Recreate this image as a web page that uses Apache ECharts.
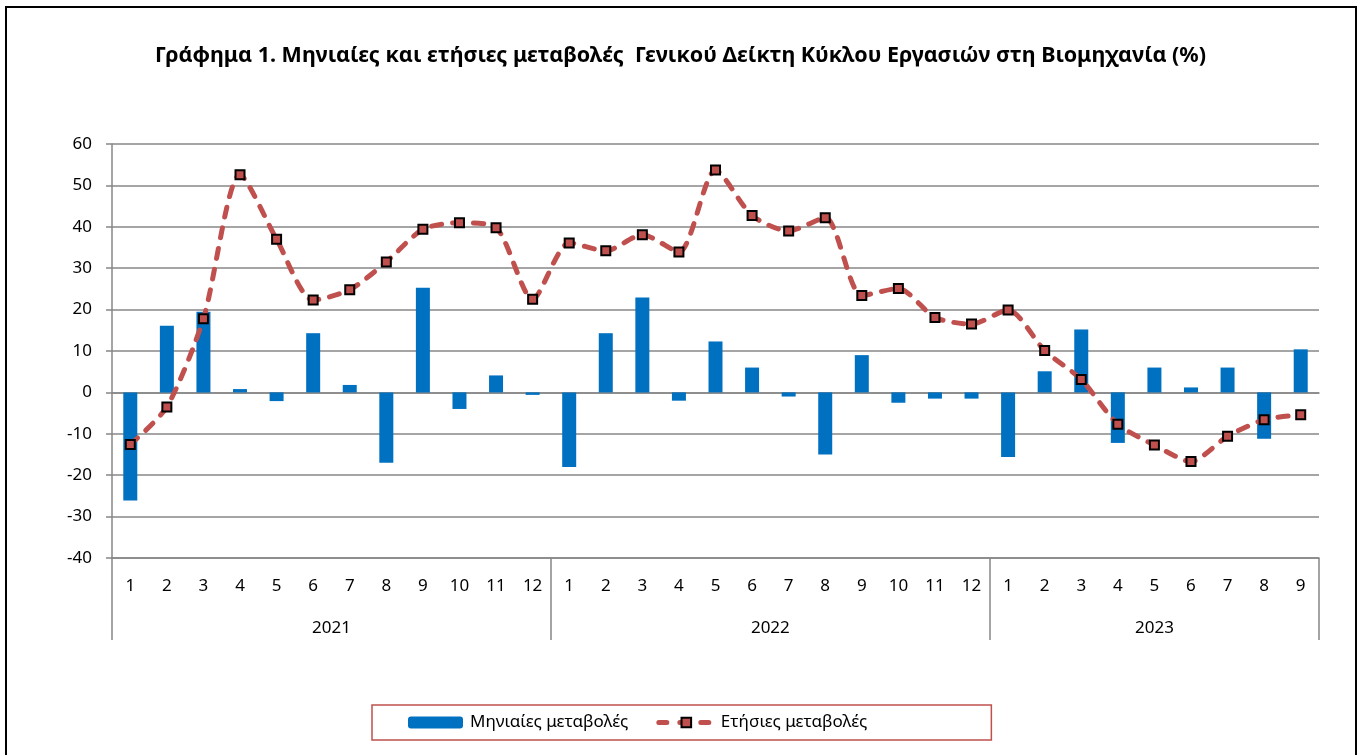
<!DOCTYPE html>
<html>
<head>
<meta charset="utf-8">
<script src="https://cdn.jsdelivr.net/npm/echarts@6/dist/echarts.min.js"></script>
<style>
  body { margin: 0; background: #fff; }
  #chart { width: 1361px; height: 755px; }
  #frame { position: absolute; left: 5px; top: 6px; width: 1348px; height: 800px;
           border: 2px solid #000; pointer-events: none; }
</style>
</head>
<body>
<div id="chart"></div>
<div id="frame"></div>
<script>
// months of each year shown on the axis
var months = ['1','2','3','4','5','6','7','8','9','10','11','12',
              '1','2','3','4','5','6','7','8','9','10','11','12',
              '1','2','3','4','5','6','7','8','9'];
var years = ['2021', '2022', '2023'];
var yearLengths = [12, 12, 9];

// Μηνιαίες μεταβολές (%)
var monthly = [-26.1, 16.1, 19.5, 0.8, -2.1, 14.3, 1.8, -17.0, 25.3, -4.0, 4.1, -0.6,
               -18.0, 14.3, 22.9, -2.0, 12.3, 6.0, -1.0, -15.0, 9.0, -2.5, -1.5, -1.5,
               -15.6, 5.1, 15.2, -12.2, 6.0, 1.2, 6.0, -11.2, 10.4];
// Ετήσιες μεταβολές (%)
var annual = [-12.6, -3.5, 17.8, 52.6, 37.0, 22.3, 24.8, 31.5, 39.4, 41.0, 39.8, 22.5,
              36.1, 34.2, 38.1, 33.9, 53.7, 42.7, 39.0, 42.2, 23.4, 25.1, 18.1, 16.5,
              19.9, 10.1, 3.1, -7.7, -12.7, -16.7, -10.6, -6.6, -5.4];

// year row: half-month slots so group centres and boundaries fall on slots
var yearSlots = [], yearBounds = {0: true}, pos = 0;
for (var i = 0; i <= 2 * months.length; i++) yearSlots.push('');
years.forEach(function (y, k) {
  yearSlots[pos + yearLengths[k]] = y;
  pos += 2 * yearLengths[k];
  yearBounds[pos] = true;
});

var grey = '#878787';
var font = 'Noto Sans';

var chart = echarts.init(document.getElementById('chart'));
chart.setOption({
  animation: false,
  title: {
    text: 'Γράφημα 1. Μηνιαίες και ετήσιες μεταβολές  Γενικού Δείκτη Κύκλου Εργασιών στη Βιομηχανία (%)',
    left: 'center', top: 40,
    textStyle: { fontFamily: font, fontSize: 21.5, fontWeight: 'bold', color: '#000' }
  },
  grid: { left: 112, right: 42, top: 144, bottom: 197 },
  legend: {
    left: 372, top: 705,
    padding: [9, 124, 9, 36],
    borderColor: '#C0504D', borderWidth: 1.5,
    itemWidth: 55, itemHeight: 12, itemGap: 28,
    lineStyle: { width: 5, type: [8, 13], cap: 'round' },
    textStyle: { fontFamily: font, fontSize: 17, color: '#000', padding: [0, 0, 0, 2] },
    data: ['Μηνιαίες μεταβολές', 'Ετήσιες μεταβολές']
  },
  xAxis: [{
    type: 'category', data: months, position: 'bottom',
    axisLine: { onZero: false, lineStyle: { color: grey, width: 1.5 } },
    axisTick: { length: 41, lineStyle: { color: grey, width: 1.5 } },
    axisLabel: { interval: 0, margin: 20, fontFamily: font, fontSize: 17, color: '#000' }
  }, {
    type: 'category', data: yearSlots, position: 'bottom', boundaryGap: false,
    axisLine: { show: false, onZero: false },
    axisTick: { length: 82, interval: function (idx) { return !!yearBounds[idx]; },
                lineStyle: { color: grey, width: 1.5 } },
    axisLabel: { interval: 0, margin: 62, fontFamily: font, fontSize: 17, color: '#000' }
  }, {
    type: 'category', data: months, position: 'bottom',
    axisLine: { onZero: true, lineStyle: { color: grey, width: 1.5 } },
    axisTick: { length: 6, lineStyle: { color: grey, width: 1.5 } },
    axisLabel: { show: false }
  }],
  yAxis: {
    type: 'value', min: -40, max: 60, interval: 10,
    axisLine: { show: true, lineStyle: { color: grey, width: 1.5 } },
    axisTick: { show: true, length: 6, lineStyle: { color: grey, width: 1.5 } },
    axisLabel: { margin: 20, fontFamily: font, fontSize: 17, color: '#000' },
    splitLine: { lineStyle: { color: grey, width: 1.5 } }
  },
  series: [{
    name: 'Μηνιαίες μεταβολές', type: 'bar', xAxisIndex: 0,
    data: monthly, barWidth: 14,
    itemStyle: { color: '#0070C0' }
  }, {
    name: 'Ετήσιες μεταβολές', type: 'line', xAxisIndex: 0,
    data: annual, smooth: 0.25, z: 5,
    symbol: 'rect', symbolSize: 9,
    lineStyle: { color: '#C0504D', width: 5, type: [10, 11], cap: 'round' },
    itemStyle: { color: '#C0504D', borderColor: '#000', borderWidth: 2 }
  }]
});
</script>
</body>
</html>
